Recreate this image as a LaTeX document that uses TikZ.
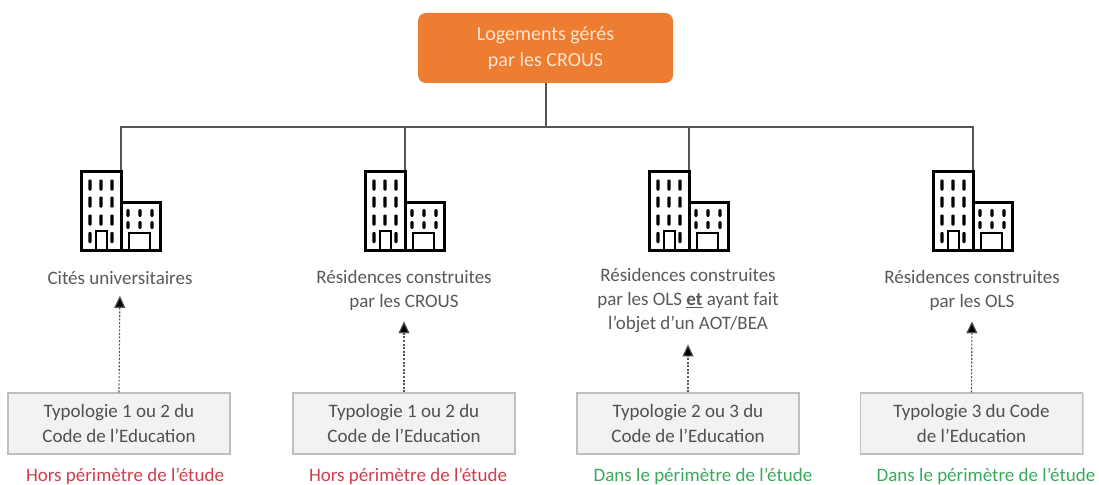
\documentclass[tikz,border=0pt]{standalone}
\usepackage{fontspec}
\setmainfont{Carlito}
\usetikzlibrary{arrows.meta,shadows}
\definecolor{orng}{HTML}{ED7D31}
\definecolor{peach}{RGB}{252,228,210}
\definecolor{txtgray}{HTML}{595959}
\definecolor{boxtxt}{HTML}{505050}
\definecolor{boxfill}{HTML}{F2F2F2}
\definecolor{boxline}{HTML}{BFBFBF}
\definecolor{linegray}{HTML}{555555}
\definecolor{redlab}{RGB}{205,62,78}
\definecolor{greenlab}{RGB}{58,168,92}
\tikzset{
  topbox/.style={fill=orng, rounded corners=8pt, minimum width=255pt, minimum height=70pt,
    text=peach, align=center, font=\fontsize{20}{26}\selectfont, inner sep=0pt},
  catlabel/.style={text=txtgray, align=center, font=\fontsize{19}{24}\selectfont, inner sep=2pt},
  typbox/.style={fill=boxfill, draw=boxline, line width=1.1pt, minimum width=222pt, minimum height=61pt,
    text=boxtxt, align=center, font=\fontsize{19}{25}\selectfont, inner sep=0pt,
    drop shadow={shadow xshift=1.2pt, shadow yshift=-1.2pt, opacity=0.25, fill=black!60}},
  scopelab/.style={font=\fontsize{19}{24}\selectfont, inner sep=0pt},
  treeline/.style={draw=linegray, line width=1.3pt},
  dotarrow/.style={draw=linegray, line width=1.1pt, dash pattern=on 2pt off 1.6pt,
    -{Triangle[width=11pt,length=12pt,fill=black,sep=0pt]}, shorten >=9pt},
  building/.pic={
    \draw[line width=3pt, black, fill=white] (-40,0) rectangle (0,79);
    \draw[line width=3pt, black, fill=white] (0,31) rectangle (39,79);
    \foreach \cx in {-31,-20,-9}{
      \foreach \cy in {14,31,49}{
        \fill[black, rounded corners=1pt] (\cx-1.7,\cy-5.5) rectangle (\cx+1.7,\cy+5.5);
      }
    }
    \foreach \cx in {-31,-9}{
      \fill[black, rounded corners=1pt] (\cx-1.7,61) rectangle (\cx+1.7,72);
    }
    \draw[line width=2.6pt, black] (-25,79) -- (-25,60) -- (-14,60) -- (-14,79);
    \foreach \cx in {7,19,31}{
      \foreach \cy in {42,54}{
        \fill[black, rounded corners=1pt] (\cx-1.6,\cy-3.8) rectangle (\cx+1.6,\cy+3.8);
      }
    }
    \draw[line width=2.6pt, black] (8,79) -- (8,62) -- (29,62) -- (29,79);
  }
}
\begin{document}
\begin{tikzpicture}[x=1pt,y=-1pt]
\useasboundingbox (0,0) rectangle (1099,484);
\node[topbox] (top) at (545.5,48) {Logements gérés\\par les CROUS};
\coordinate (hl) at (121,127);
\coordinate (hr) at (973,127);
\coordinate (hm) at (546,127);
\coordinate (d1) at (121,171);
\coordinate (d2) at (405,171);
\coordinate (d3) at (689,171);
\coordinate (d4) at (973,171);
\draw[treeline] (top.south -| hm) -- (hm);
\draw[treeline] (d1) -- (hl) -- (hr) -- (d4);
\draw[treeline] (d2) -- (d2 |- hl);
\draw[treeline] (d3) -- (d3 |- hl);
\pic at (d1) {building};
\pic at (d2) {building};
\pic at (d3) {building};
\pic at (d4) {building};
\node[catlabel] (c1) at (120,278) {Cités universitaires};
\node[catlabel] (c2) at (404,290) {Résidences construites\\par les CROUS};
\node[catlabel] (c3) at (688,301) {Résidences construites\\par les OLS \textbf{\underline{et}} ayant fait\\l’objet d’un AOT/BEA};
\node[catlabel] (c4) at (972,290) {Résidences construites\\par les OLS};
\node[typbox] (b1) at (119,423.5) {Typologie 1 ou 2 du\\Code de l’Education};
\node[typbox] (b2) at (404,423.5) {Typologie 1 ou 2 du\\Code de l’Education};
\node[typbox] (b3) at (688,423.5) {Typologie 2 ou 3 du\\Code de l’Education};
\node[typbox] (b4) at (971.5,423.5) {Typologie 3 du Code\\de l’Education};
\draw[dotarrow] (b1.north) -- (c1.south);
\draw[dotarrow] (b2.north) -- (c2.south);
\draw[dotarrow] (b3.north) -- (c3.south);
\draw[dotarrow] (b4.north) -- (c4.south);
\node[scopelab, text=redlab] (s1) at (125,476) {Hors périmètre de l’étude};
\node[scopelab, text=redlab] (s2) at (408,476) {Hors périmètre de l’étude};
\node[scopelab, text=greenlab] (s3) at (703,476) {Dans le périmètre de l’étude};
\node[scopelab, text=greenlab] (s4) at (986,476) {Dans le périmètre de l’étude};
\end{tikzpicture}
\end{document}
